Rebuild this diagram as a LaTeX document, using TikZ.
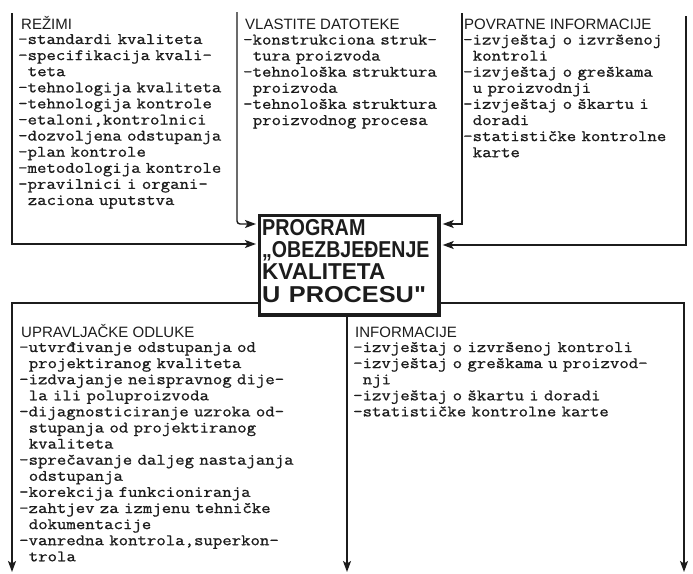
\documentclass[tikz,border=0pt]{standalone}
\usepackage{fontspec}
\usepackage{graphicx}
\setmainfont{Liberation Sans}
\newfontfamily\typefont[FakeBold=0.9,FakeStretch=1.143]{Latin Modern Mono}
\newfontfamily\headfont{Liberation Sans}
\usetikzlibrary{arrows.meta}
\definecolor{ink}{HTML}{1C1C1C}
% one typewriter space, for the indented continuation lines
\newcommand\indnt{\hspace*{9.6pt}}
\begin{document}
\begin{tikzpicture}[x=1pt,y=-1pt,
  wire/.style={draw=ink, line width=1.4pt},
  flow/.style={wire, -{Stealth[length=11pt,width=8pt,inset=2.5pt]}},
  heading/.style={anchor=base west, inner sep=0, text=ink,
    font=\headfont\fontsize{15}{15}\selectfont},
  listing/.style={anchor=base west, inner sep=0, text=ink, text width=340pt,
    align=left, font=\typefont\fontsize{16}{16.1}\selectfont},
  progbox/.style={draw=ink, line width=3.6pt, inner sep=0,
    minimum width=179.5pt, minimum height=99.5pt},
  progtext/.style={anchor=base west, inner sep=0, text=ink, text width=180pt,
    align=left, font=\headfont\bfseries\fontsize{23}{22.4}\selectfont},
]
\useasboundingbox (0,0) rectangle (693,573);

% central programme box
\node[progbox, anchor=north west] (prog) at (257.8,213.8) {};
\node[progtext] (progtxt) at (262,235)
  {\scalebox{0.86}[1]{PROGRAM}\\
   \scalebox{0.85}[1]{„OBEZBJEĐENJE}\\
   \scalebox{0.98}[1]{KVALITETA}\\
   \scalebox{1.1}[1]{U PROCESU"}};

% input lines into the programme box
\coordinate (a1) at (12,13);   \coordinate (a2) at (12,244);
\coordinate (b1) at (237,12);  \coordinate (b2) at (237,224);
\coordinate (c1) at (462,13);  \coordinate (c2) at (462,224);
\coordinate (d1) at (686,16);  \coordinate (d2) at (686,245);
\draw[flow, shorten >=1.8pt] (a1) -- (a2) -- (a2 -| prog.west);
\draw[flow, shorten >=1.8pt, rounded corners=3pt] (b1) -- (b2) -- (b2 -| prog.west);
\draw[flow, shorten >=1.8pt] (c1) -- (c2) -- (c2 -| prog.east);
\draw[flow, shorten >=1.8pt] (d1) -- (d2) -- (d2 -| prog.east);

% output lines from the programme box
\coordinate (e1) at (12,303);  \coordinate (e2) at (12,572);
\coordinate (f2) at (347,572);
\coordinate (g1) at (684,303); \coordinate (g2) at (684,572);
\draw[flow] (e1 -| prog.west) -- (e1) -- (e2);
\draw[flow] (prog.south -| f2) -- (f2);
\draw[flow] (g1 -| prog.east) -- (g1) -- (g2);

% upper blocks
\node[heading] (rezh) at (21,29) {REŽIMI};
\node[listing] (rezb) at (18,44)
  {-standardi kvaliteta\\
   -specifikacija kvali-\\
   \indnt teta\\
   -tehnologija kvaliteta\\
   -tehnologija kontrole\\
   -etaloni,kontrolnici\\
   -dozvoljena odstupanja\\
   -plan kontrole\\
   -metodologija kontrole\\
   -pravilnici i organi-\\
   \indnt zaciona uputstva};

\node[heading] (vlah) at (245,29) {VLASTITE DATOTEKE};
\node[listing] (vlab) at (243,44.5)
  {-konstrukciona struk-\\
   \indnt tura proizvoda\\
   -tehnološka struktura\\
   \indnt proizvoda\\
   -tehnološka struktura\\
   \indnt proizvodnog procesa};

\node[heading] (povh) at (464,29) {POVRATNE INFORMACIJE};
\node[listing] (povb) at (463,44.5)
  {-izvještaj o izvršenoj\\
   \indnt kontroli\\
   -izvještaj o greškama\\
   \indnt u proizvodnji\\
   -izvještaj o škartu i\\
   \indnt doradi\\
   -statističke kontrolne\\
   \indnt karte};

% lower blocks
\node[heading] (uprh) at (21,337) {UPRAVLJAČKE ODLUKE};
\node[listing] (uprb) at (19,352)
  {-utvrđivanje odstupanja od\\
   \indnt projektiranog kvaliteta\\
   -izdvajanje neispravnog dije-\\
   \indnt la ili poluproizvoda\\
   -dijagnosticiranje uzroka od-\\
   \indnt stupanja od projektiranog\\
   \indnt kvaliteta\\
   -sprečavanje daljeg nastajanja\\
   \indnt odstupanja\\
   -korekcija funkcioniranja\\
   -zahtjev za izmjenu tehničke\\
   \indnt dokumentacije\\
   -vanredna kontrola,superkon-\\
   \indnt trola};

\node[heading] (infh) at (355,337) {INFORMACIJE};
\node[listing] (infb) at (353,352)
  {-izvještaj o izvršenoj kontroli\\
   -izvještaj o greškama u proizvod-\\
   \indnt nji\\
   -izvještaj o škartu i doradi\\
   -statističke kontrolne karte};
\end{tikzpicture}
\end{document}
